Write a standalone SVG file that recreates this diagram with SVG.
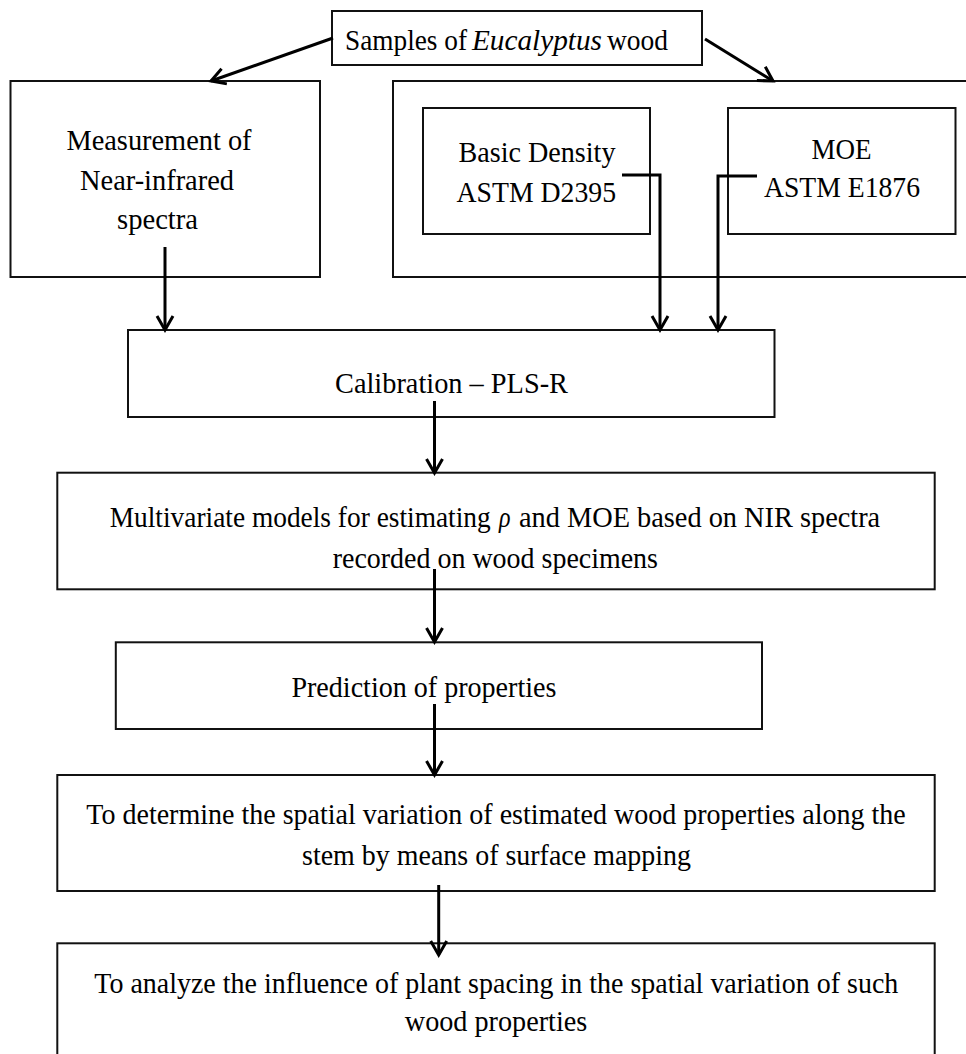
<svg xmlns="http://www.w3.org/2000/svg" width="966" height="1054" viewBox="0 0 966 1054">
<defs>
<style>
.box{fill:#fff;stroke:#111;stroke-width:2}
.t{font-family:"Liberation Serif","Times New Roman",serif;font-size:30px;fill:#000}
.c{fill:none;stroke:#000;stroke-width:3}
.it{font-style:italic}
</style>
<marker id="ah" markerUnits="userSpaceOnUse" markerWidth="20" markerHeight="20" viewBox="0 0 20 20" refX="17" refY="10" orient="auto">
<path d="M3,2 L17,10 L3,18" fill="none" stroke="#000" stroke-width="3"/>
</marker>
</defs>
<rect width="966" height="1054" fill="#fff"/>

<g id="n-samples">
<rect class="box" x="332" y="11" width="370" height="54"/>
<text class="t" x="345" y="50" textLength="122" lengthAdjust="spacingAndGlyphs">Samples of</text>
<text class="t it" x="472" y="50" textLength="130" lengthAdjust="spacingAndGlyphs">Eucalyptus</text>
<text class="t" x="607" y="50" textLength="61" lengthAdjust="spacingAndGlyphs">wood</text>
</g>

<g id="n-nir">
<rect class="box" x="10.5" y="81" width="309.5" height="196"/>
<text class="t" x="66.5" y="150" textLength="185" lengthAdjust="spacingAndGlyphs">Measurement of</text>
<text class="t" x="80" y="190" textLength="154" lengthAdjust="spacingAndGlyphs">Near-infrared</text>
<text class="t" x="117" y="229" textLength="81" lengthAdjust="spacingAndGlyphs">spectra</text>
</g>

<g id="n-ref">
<rect class="box" x="393" y="81" width="580" height="196"/>
</g>

<g id="n-density">
<rect class="box" x="423" y="108" width="227" height="126"/>
<text class="t" x="458.5" y="161.5" textLength="157" lengthAdjust="spacingAndGlyphs">Basic Density</text>
<text class="t" x="456.5" y="201.5" textLength="159.5" lengthAdjust="spacingAndGlyphs">ASTM D2395</text>
</g>

<g id="n-moe">
<rect class="box" x="728" y="108" width="227.5" height="126"/>
<text class="t" x="811.5" y="158.5" textLength="60" lengthAdjust="spacingAndGlyphs">MOE</text>
<text class="t" x="764" y="197" textLength="156" lengthAdjust="spacingAndGlyphs">ASTM E1876</text>
</g>

<g id="n-calib">
<rect class="box" x="128" y="330" width="646.5" height="87"/>
<text class="t" x="335" y="393" textLength="233" lengthAdjust="spacingAndGlyphs">Calibration – PLS-R</text>
</g>

<g id="n-models">
<rect class="box" x="57.3" y="472.7" width="877.4" height="116.6"/>
<text class="t" transform="translate(109.7,527) scale(0.913,1)">Multivariate models for estimating</text>
<text class="t it" transform="translate(499,527) scale(0.8,1)">ρ</text>
<text class="t" transform="translate(519,527) scale(0.945,1)">and MOE based on NIR spectra</text>
<text class="t" x="332.7" y="568" textLength="325.3" lengthAdjust="spacingAndGlyphs">recorded on wood specimens</text>
</g>

<g id="n-predict">
<rect class="box" x="115.8" y="642.3" width="646.2" height="86.7"/>
<text class="t" x="291.4" y="696.7" textLength="265" lengthAdjust="spacingAndGlyphs">Prediction of properties</text>
</g>

<g id="n-spatial">
<rect class="box" x="57.3" y="775" width="877.4" height="116"/>
<text class="t" x="86.3" y="824" textLength="819.4" lengthAdjust="spacingAndGlyphs">To determine the spatial variation of estimated wood properties along the</text>
<text class="t" x="302" y="865" textLength="389" lengthAdjust="spacingAndGlyphs">stem by means of surface mapping</text>
</g>

<g id="n-spacing">
<rect class="box" x="57.3" y="943.3" width="877.4" height="120"/>
<text class="t" x="94.3" y="993" textLength="804" lengthAdjust="spacingAndGlyphs">To analyze the influence of plant spacing in the spatial variation of such</text>
<text class="t" x="404.8" y="1030.5" textLength="182.4" lengthAdjust="spacingAndGlyphs">wood properties</text>
</g>

<g id="connectors">
<line class="c" x1="333" y1="38" x2="211" y2="81" marker-end="url(#ah)"/>
<line class="c" x1="705" y1="39" x2="773" y2="81" marker-end="url(#ah)"/>
<line class="c" x1="165" y1="247" x2="165" y2="330" marker-end="url(#ah)"/>
<path class="c" d="M622,175 H660 V330" marker-end="url(#ah)"/>
<path class="c" d="M757,176 H718 V330" marker-end="url(#ah)"/>
<line class="c" x1="434.5" y1="401" x2="434.5" y2="473" marker-end="url(#ah)"/>
<line class="c" x1="434.5" y1="569" x2="434.5" y2="642" marker-end="url(#ah)"/>
<line class="c" x1="434.5" y1="704" x2="434.5" y2="775" marker-end="url(#ah)"/>
<line class="c" x1="438.7" y1="885" x2="438.7" y2="955" marker-end="url(#ah)"/>
</g>
</svg>
